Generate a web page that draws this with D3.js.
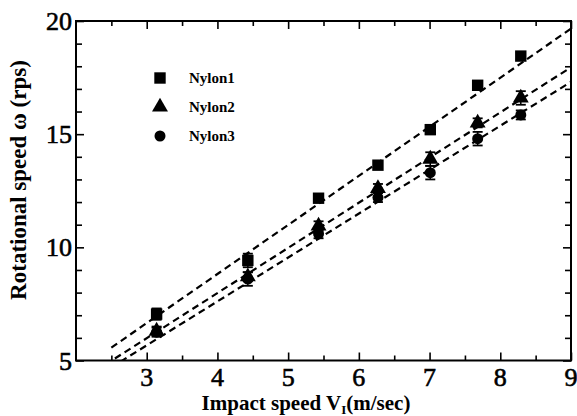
<!DOCTYPE html>
<html><head><meta charset="utf-8">
<script src="https://cdn.jsdelivr.net/npm/d3@7"></script>
<style>body{margin:0;background:#fff} text{font-family:"Times New Roman",Times,"Liberation Serif","DejaVu Serif","Noto Serif",serif;}</style>
</head><body>
<svg id="c" width="577" height="416"></svg>
<script>
const speeds = [3.14, 4.43, 5.43, 6.27, 7.01, 7.68, 8.29];
const seriesNames = ["Nylon1", "Nylon2", "Nylon3"];
const nylon1 = [7.05, 9.42, 12.17, 13.63, 15.2, 17.16, 18.45];
const nylon2 = [6.3, 8.7, 10.95, 12.6, 13.9, 15.5, 16.6];
const nylon3 = [6.25, 8.6, 10.6, 12.2, 13.3, 14.8, 15.85];
const err1 = [0.25, 0.3, 0.15, 0.15, 0.2, 0.15, 0.15];
const err2 = [0.2, 0.2, 0.2, 0.2, 0.3, 0.2, 0.3];
const err3 = [0.2, 0.3, 0.2, 0.2, 0.3, 0.3, 0.2];
const fitSlope = [2.168, 1.995, 1.94];
const fitIntercept = [0.15, 0.0, -0.15];
const fitStart = [2.5, 2.55, 2.63];
const fitEnd = 9;
const xTicks = [3, 4, 5, 6, 7, 8, 9];
const yTicks = [5, 10, 15, 20];

const svg = d3.select("#c");
const L = 76, R = 571, T = 21, B = 360.5;
const x = d3.scaleLinear().domain([2, 9]).range([L, R]);
const y = d3.scaleLinear().domain([5, 20]).range([B, T]);

const defs = svg.append("defs");
defs.append("clipPath").attr("id", "clip").append("rect")
  .attr("x", L).attr("y", T).attr("width", R - L).attr("height", B - T);

const series = [
  {name: seriesNames[0], v: nylon1, e: err1, sym: d3.symbolSquare, size: 130},
  {name: seriesNames[1], v: nylon2, e: err2, sym: d3.symbolTriangle, size: 110},
  {name: seriesNames[2], v: nylon3, e: err3, sym: d3.symbolCircle, size: 95}
];

// fit lines
const gl = svg.append("g").attr("clip-path", "url(#clip)");
series.forEach((s, i) => {
  const pts = [fitStart[i], fitEnd].map(v => [v, fitSlope[i] * v + fitIntercept[i]]);
  gl.append("path")
    .attr("d", d3.line().x(d => x(d[0])).y(d => y(d[1]))(pts))
    .attr("fill", "none").attr("stroke", "#000").attr("stroke-width", 2.2)
    .attr("stroke-dasharray", "7,4.5");
});

// error bars and markers
series.forEach(s => {
  const g = svg.append("g");
  speeds.forEach((sp, j) => {
    const cx = x(sp), y0 = y(s.v[j] - s.e[j]), y1 = y(s.v[j] + s.e[j]);
    g.append("line").attr("x1", cx).attr("x2", cx).attr("y1", y0).attr("y2", y1)
      .attr("stroke", "#000").attr("stroke-width", 1.5);
    [y0, y1].forEach(yy => g.append("line").attr("x1", cx - 5).attr("x2", cx + 5)
      .attr("y1", yy).attr("y2", yy).attr("stroke", "#000").attr("stroke-width", 1.8));
    g.append("path").attr("d", d3.symbol().type(s.sym).size(s.size)())
      .attr("transform", `translate(${cx},${y(s.v[j])})`).attr("fill", "#000");
  });
});

// axes (ticks inward on all four sides)
const minorX = d3.range(2.5, 9, 0.5).filter(v => !Number.isInteger(v));
const minorY = d3.range(6, 20, 1).filter(v => v % 5 !== 0);
function ax(gen, tr, ticks, size) {
  const g = svg.append("g").attr("transform", tr)
    .call(gen.tickValues(ticks).tickSize(size).tickFormat(""));
  g.select(".domain").remove();
  g.selectAll("line").attr("stroke", "#000").attr("stroke-width", 1.6);
  return g;
}
ax(d3.axisBottom(x), `translate(0,${B})`, xTicks, -8);
ax(d3.axisBottom(x), `translate(0,${B})`, minorX, -5);
ax(d3.axisTop(x), `translate(0,${T})`, xTicks, -8);
ax(d3.axisTop(x), `translate(0,${T})`, minorX, -5);
ax(d3.axisLeft(y), `translate(${L},0)`, yTicks, -8);
ax(d3.axisLeft(y), `translate(${L},0)`, minorY, -6);
ax(d3.axisRight(y), `translate(${R},0)`, yTicks, -8);
ax(d3.axisRight(y), `translate(${R},0)`, minorY, -6);

svg.append("rect").attr("x", L).attr("y", T).attr("width", R - L).attr("height", B - T)
  .attr("fill", "none").attr("stroke", "#000").attr("stroke-width", 2);

// tick labels
svg.append("g").selectAll("text").data(xTicks).join("text")
  .attr("x", d => x(d)).attr("y", 386).attr("text-anchor", "middle")
  .attr("font-size", 26).attr("stroke", "#000").attr("stroke-width", 0.6)
  .text(d => d);
svg.append("g").selectAll("text").data(yTicks).join("text")
  .attr("x", 72).attr("y", d => y(d) + 9).attr("text-anchor", "end")
  .attr("font-size", 26).attr("stroke", "#000").attr("stroke-width", 0.6)
  .text(d => d);

// axis titles
const xt = svg.append("text").attr("x", 306).attr("y", 410).attr("text-anchor", "middle")
  .attr("font-size", 21).attr("font-weight", "bold");
xt.append("tspan").text("Impact speed V");
xt.append("tspan").attr("font-size", 13).attr("dy", 4).text("I");
xt.append("tspan").attr("dy", -4).text("(m/sec)");

svg.append("text").attr("transform", "translate(26,180) rotate(-90)")
  .attr("text-anchor", "middle").attr("font-size", 23)
  .attr("font-weight", "bold").text("Rotational speed  ω (rps)");

// legend
const lg = svg.append("g");
series.forEach((s, i) => {
  const ly = 78 + i * 29;
  lg.append("path").attr("d", d3.symbol().type(s.sym).size(s.size)())
    .attr("transform", `translate(160,${ly})`).attr("fill", "#000");
  lg.append("text").attr("x", 189).attr("y", ly + 5)
    .attr("font-size", 15).attr("font-weight", "bold").text(s.name);
});
</script>
</body></html>
